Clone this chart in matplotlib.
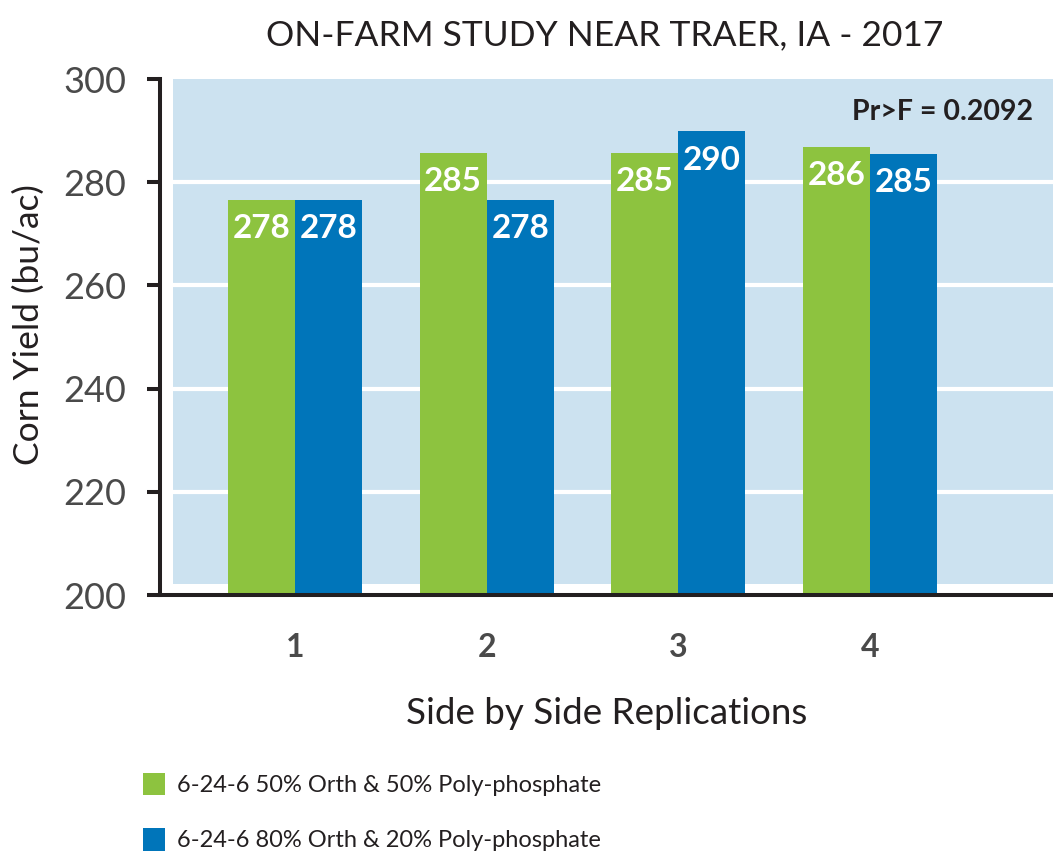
import matplotlib
matplotlib.use('Agg')
import matplotlib.pyplot as plt
from matplotlib.patches import Rectangle
import numpy as np

# ---- data ----
categories = ['1', '2', '3', '4']
series_names = ['6-24-6 50% Orth & 50% Poly-phosphate',
                '6-24-6 80% Orth & 20% Poly-phosphate']
green_heights = [276.6, 285.7, 285.7, 286.9]
blue_heights = [276.6, 276.6, 289.9, 285.5]
green_labels = ['278', '285', '285', '286']
blue_labels = ['278', '278', '290', '285']
y_ticks = [200, 220, 240, 260, 280, 300]
title_text = 'ON-FARM STUDY NEAR TRAER, IA - 2017'
stat_text = 'Pr>F = 0.2092'
x_label = 'Side by Side Replications'
y_label = 'Corn Yield (bu/ac)'

# ---- style ----
GREEN = '#8DC33F'
BLUE = '#0075BA'
BG = '#CCE2F0'
DARK = '#231F20'
GREY = '#4A4A4A'
FONT = ['Lato', 'DejaVu Sans']
plt.rcParams['font.family'] = FONT

W, H = 1053, 855
fig = plt.figure(figsize=(W / 100, H / 100), dpi=100)
ax = fig.add_axes([160 / W, 1 - 595 / H, (W - 160) / W, (595 - 79) / H])

x = np.arange(len(categories))
bw = 0.35
ax.set_xlim(-0.704, 3.955)
ax.set_ylim(200, 300)

# background panel with white gridlines
ax.add_patch(Rectangle((-0.6365, 202.2), 3.955 + 0.6365, 300 - 202.2,
                       facecolor=BG, edgecolor='none', zorder=0))
ax.hlines(y_ticks[1:-1], -0.6365, 3.955, colors='white', linewidth=3.0, zorder=1)

b1 = ax.bar(x - bw / 2, green_heights, bw, color=GREEN, zorder=2, label=series_names[0])
b2 = ax.bar(x + bw / 2, blue_heights, bw, color=BLUE, zorder=2, label=series_names[1])

for bars, labels in ((b1, green_labels), (b2, blue_labels)):
    for rect, lab in zip(bars, labels):
        ax.annotate(lab, (rect.get_x() + rect.get_width() / 2, rect.get_height()),
                    xytext=(0, -21), textcoords='offset points',
                    ha='center', va='center', color='white',
                    fontsize=24, fontweight='bold', zorder=3)

# axes styling
for s in ('top', 'right'):
    ax.spines[s].set_visible(False)
for s in ('left', 'bottom'):
    ax.spines[s].set_linewidth(2.9)
    ax.spines[s].set_color(DARK)
ax.set_yticks(y_ticks)
ax.set_yticklabels([str(v) for v in y_ticks])
ax.tick_params(axis='y', length=9.5, width=2.9, color=DARK, pad=15,
               labelsize=26, labelcolor=GREY)
ax.set_xticks(x)
ax.set_xticklabels(categories, fontweight='bold')
ax.tick_params(axis='x', length=0, pad=27, labelsize=23, labelcolor=GREY)
ax.set_facecolor('white')

ax.set_ylabel(y_label, fontsize=25.5, color=DARK, va='center')
ax.yaxis.set_label_coords((29 - 160) / 893, (595 - 325) / 516)
ax.set_xlabel(x_label, fontsize=26.5, color=DARK, va='center')
ax.xaxis.set_label_coords((607 - 160) / 893, (595 - 713) / 516)

fig.text(605 / W, 1 - 35 / H, title_text, ha='center', va='center',
         fontsize=25.5, color=DARK)
fig.text(1033 / W, 1 - 112 / H, stat_text, ha='right', va='center',
         fontsize=20.5, fontweight='bold', color=DARK)

fig.legend(handles=[b1, b2], labels=series_names, loc='upper left',
           bbox_to_anchor=(131 / W, 1 - 761 / H), frameon=False,
           fontsize=17, handlelength=0.95, handleheight=1.1,
           handletextpad=0.5, labelspacing=1.35, borderpad=0,
           labelcolor=DARK)

fig.savefig('out.png', dpi=100)
